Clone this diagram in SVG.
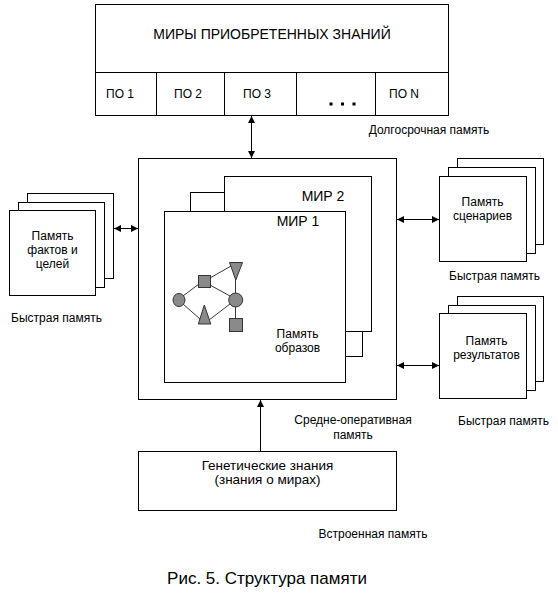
<svg xmlns="http://www.w3.org/2000/svg" width="558" height="596" viewBox="0 0 558 596">
<defs>
<style>
text{font-family:"Liberation Sans",Arial,sans-serif;fill:#000;text-anchor:middle}
.s12{font-size:12px}
.s13{font-size:13.5px}
.s14{font-size:14px}
.s16{font-size:17px}
.box{fill:#fff;stroke:#000;stroke-width:1}
.ln{fill:none;stroke:#000;stroke-width:1}
.edge{fill:none;stroke:#222;stroke-width:0.9}
.shp{fill:#8a8a8a;stroke:#333;stroke-width:1}
</style>
<marker id="ah" viewBox="0 0 10 10" refX="10" refY="5" markerWidth="8" markerHeight="7" markerUnits="userSpaceOnUse" orient="auto-start-reverse">
<path d="M0,0 L10,5 L0,10 z" fill="#000"/>
</marker>
</defs>
<rect width="558" height="596" fill="#fff"/>

<g id="acquired">
<rect class="box" x="95.5" y="4.5" width="353" height="111"/>
<line class="ln" x1="95.5" y1="72.5" x2="448.5" y2="72.5"/>
<line class="ln" x1="156.5" y1="72.5" x2="156.5" y2="115.5"/>
<line class="ln" x1="224.5" y1="72.5" x2="224.5" y2="115.5"/>
<line class="ln" x1="296.5" y1="72.5" x2="296.5" y2="115.5"/>
<line class="ln" x1="375.5" y1="72.5" x2="375.5" y2="115.5"/>
<text class="s14" x="272" y="39">МИРЫ ПРИОБРЕТЕННЫХ ЗНАНИЙ</text>
<text class="s12" x="120" y="98">ПО 1</text>
<text class="s12" x="188" y="98">ПО 2</text>
<text class="s12" x="257" y="98">ПО 3</text>
<rect x="329.5" y="102.5" width="3" height="3" fill="#000"/>
<rect x="341" y="102.5" width="3" height="3" fill="#000"/>
<rect x="352.5" y="102.5" width="3" height="3" fill="#000"/>
<text class="s12" x="404" y="98">ПО N</text>
<text class="s12" x="429" y="134">Долгосрочная память</text>
</g>

<g id="operative">
<rect class="box" x="138.5" y="158.5" width="258" height="241"/>
<rect class="box" x="190.5" y="192.5" width="172" height="164"/>
<rect class="box" x="224.5" y="176.5" width="147" height="155"/>
<rect class="box" x="164.5" y="211.5" width="181" height="171"/>
<text class="s14" x="323" y="201">МИР 2</text>
<text class="s14" x="298" y="226">МИР 1</text>
<text class="s12" x="297.5" y="338">Память</text>
<text class="s12" x="297.5" y="352">образов</text>
<text class="s12" x="353" y="424">Средне-оперативная</text>
<text class="s12" x="353" y="438.5">память</text>
</g>

<g id="image-graph">
<line class="edge" x1="183" y1="296" x2="199" y2="284"/>
<line class="edge" x1="183" y1="304" x2="200" y2="319"/>
<line class="edge" x1="210" y1="278" x2="231" y2="266"/>
<line class="edge" x1="210" y1="285" x2="230" y2="296"/>
<line class="edge" x1="209" y1="320" x2="230" y2="304"/>
<line class="edge" x1="235.5" y1="278" x2="235.5" y2="320"/>
<ellipse class="shp" cx="179" cy="300" rx="6" ry="6.5"/>
<rect class="shp" x="198.5" y="275.5" width="12" height="12"/>
<polygon class="shp" points="229.5,262.5 242.5,262.5 235.8,280"/>
<ellipse class="shp" cx="235.7" cy="300" rx="7" ry="7"/>
<polygon class="shp" points="204.3,305 210.8,324 198.3,324"/>
<rect class="shp" x="229.5" y="318.5" width="13" height="13"/>
</g>

<g id="facts">
<rect class="box" x="27.5" y="193.5" width="86" height="85"/>
<rect class="box" x="18.5" y="202.5" width="86" height="85"/>
<rect class="box" x="9.5" y="210.5" width="86" height="85"/>
<text class="s12" x="52.5" y="240">Память</text>
<text class="s12" x="52.5" y="254">фактов и</text>
<text class="s12" x="52.5" y="268">целей</text>
<text class="s12" x="56.5" y="321.5">Быстрая память</text>
</g>

<g id="scenarios">
<rect class="box" x="457.5" y="158.5" width="86" height="86"/>
<rect class="box" x="448.5" y="167.5" width="87" height="86"/>
<rect class="box" x="439.5" y="176.5" width="87" height="85"/>
<text class="s12" x="482.5" y="206">Память</text>
<text class="s12" x="482.5" y="219.5">сценариев</text>
<text class="s12" x="494.5" y="279.5">Быстрая память</text>
</g>

<g id="results">
<rect class="box" x="457.5" y="296.5" width="86" height="85"/>
<rect class="box" x="448.5" y="305.5" width="87" height="85"/>
<rect class="box" x="439.5" y="313.5" width="87" height="85"/>
<text class="s12" x="486.5" y="345">Память</text>
<text class="s12" x="486.5" y="358.5">результатов</text>
<text class="s12" x="503.5" y="424.5">Быстрая память</text>
</g>

<g id="genetic">
<rect class="box" x="138.5" y="451.5" width="258" height="59"/>
<text class="s13" x="267.5" y="469.5">Генетические знания</text>
<text class="s13" x="267.5" y="484">(знания о мирах)</text>
<text class="s12" x="373" y="537.5">Встроенная память</text>
</g>

<g id="connectors">
<line class="ln" x1="251.5" y1="116" x2="251.5" y2="158" marker-start="url(#ah)" marker-end="url(#ah)"/>
<line class="ln" x1="114" y1="228.5" x2="138" y2="228.5" marker-start="url(#ah)" marker-end="url(#ah)"/>
<line class="ln" x1="397" y1="219.5" x2="439" y2="219.5" marker-start="url(#ah)" marker-end="url(#ah)"/>
<line class="ln" x1="397" y1="365.5" x2="439" y2="365.5" marker-start="url(#ah)" marker-end="url(#ah)"/>
<line class="ln" x1="260.5" y1="451" x2="260.5" y2="400" marker-end="url(#ah)"/>
</g>

<text class="s16" x="267" y="584">Рис. 5. Структура памяти</text>
</svg>
